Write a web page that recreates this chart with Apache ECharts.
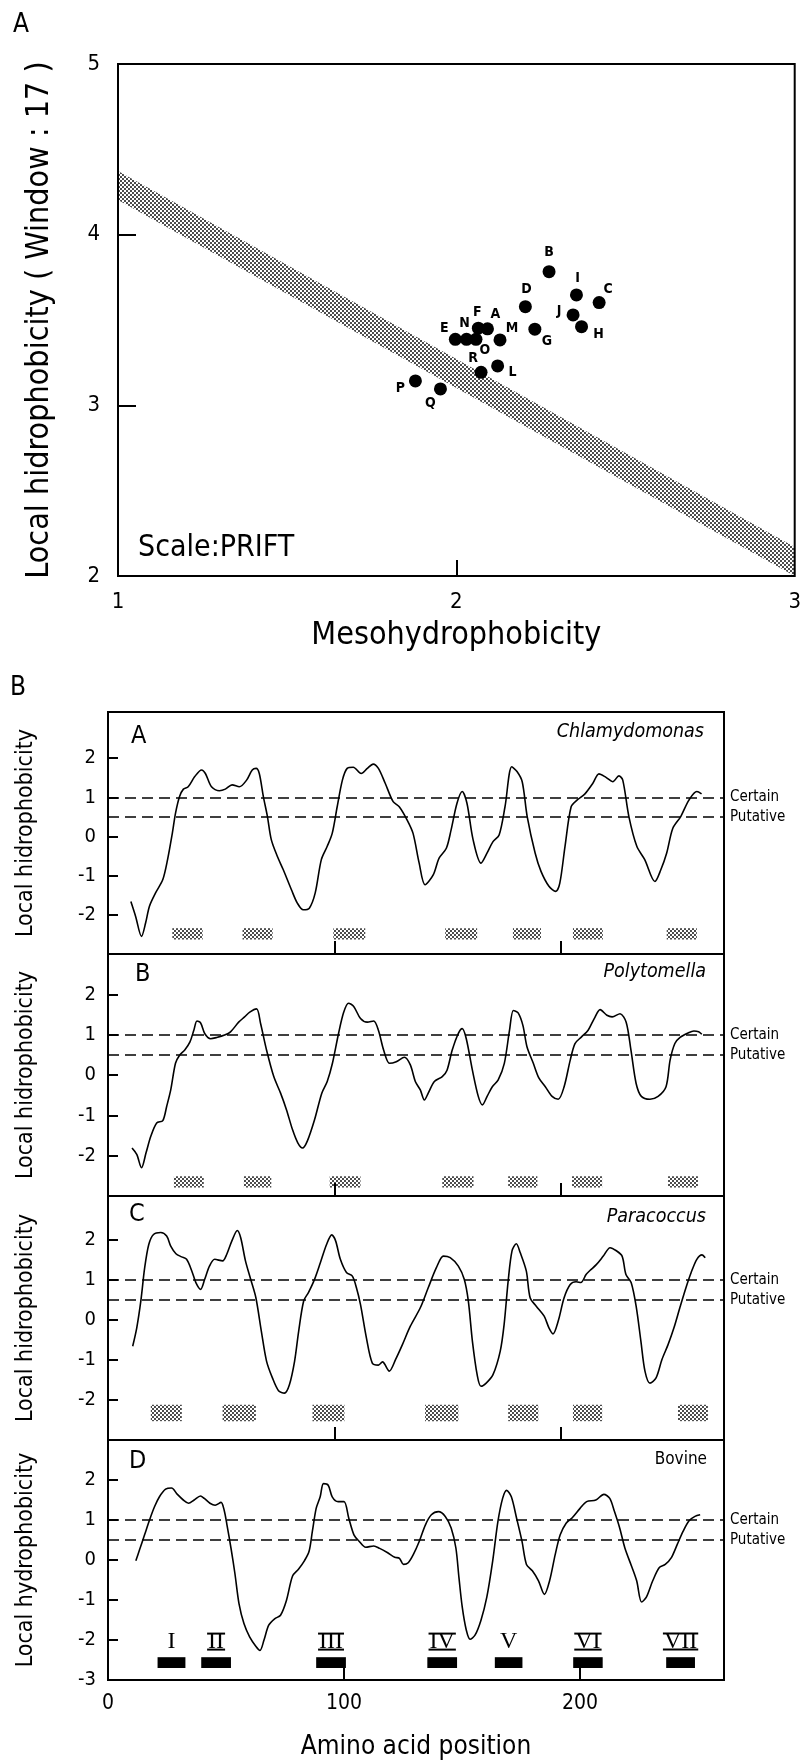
<!DOCTYPE html>
<html>
<head>
<meta charset="utf-8">
<script src="https://cdn.jsdelivr.net/npm/echarts@6/dist/echarts.min.js"></script>
<style>
  html, body { margin: 0; padding: 0; background: #fff; }
  #chart { width: 804px; height: 1761px; }
</style>
</head>
<body>
<div id="chart"></div>
<script>
// ---- panel A: mesohydrophobicity vs local hydrophobicity ----
const strainLetters = ['A','B','C','D','E','F','G','H','I','J','L','M','N','O','P','Q','R'];
const mesoValues  = [2.092,2.274,2.422,2.204,1.997,2.065,2.232,2.370,2.355,2.345,2.122,2.129,2.030,2.058,1.879,1.953,2.073];
const localValues = [3.448,3.783,3.602,3.578,3.387,3.452,3.446,3.461,3.647,3.530,3.231,3.383,3.387,3.387,3.143,3.096,3.194];
const bandX     = [1, 3];
const bandUpper = [4.373, 2.17];
const bandLower = [4.203, 2.0];

// ---- panel B: hydrophobicity profiles ----
const chlamyPos = [10.1,12.2,14.8,16.6,18.3,21.0,24.2,26.3,28.4,29.8,31.6,33.3,35.4,38.3,41.3,43.0,45.7,49.2,51.8,54.8,58.0,61.2,63.7,65.4,66.8,68.6,70.4,72.1,74.8,77.4,81.0,83.6,86.2,88.9,91.5,94.2,96.8,99.0,101.2,103.5,105.6,108.3,111.8,114.5,117.1,119.4,122.4,125.9,128.6,132.1,134.7,137.4,140.0,143.6,146.2,149.4,151.5,154.1,156.4,158.5,161.2,164.7,167.4,170.0,172.7,175.3,178.3,180.6,182.9,185.1,188.6,191.2,194.7,197.7,199.5,201.8,204.5,207.1,210.6,214.1,216.8,219.9,222.9,225.6,227.3,230.0,233.5,237.0,241.5,244.1,246.7,249.4,252.9,256.5,260.0,262.1];
const chlamyHyd = [-1.66,-2.04,-2.55,-2.21,-1.78,-1.44,-1.10,-0.59,0.08,0.59,1.02,1.21,1.27,1.53,1.70,1.61,1.27,1.17,1.21,1.32,1.27,1.44,1.70,1.74,1.61,1.02,0.51,-0.08,-0.51,-0.85,-1.36,-1.70,-1.87,-1.83,-1.44,-0.59,-0.25,0.08,0.76,1.44,1.74,1.77,1.61,1.74,1.85,1.74,1.36,0.89,0.76,0.42,0.08,-0.68,-1.23,-0.98,-0.55,-0.30,0.17,0.85,1.15,0.85,-0.08,-0.68,-0.42,-0.13,0.04,0.76,1.78,1.66,1.40,0.51,-0.42,-0.89,-1.27,-1.40,-1.19,-0.25,0.76,0.93,1.09,1.36,1.60,1.51,1.40,1.55,1.44,0.51,-0.25,-0.59,-1.15,-0.85,-0.42,0.21,0.51,0.93,1.15,1.09];

const polyPos = [10.6,12.7,14.8,16.8,18.9,21.5,24.2,25.9,27.7,29.8,31.6,33.9,36.2,37.9,39.3,40.9,42.7,45.3,48.0,51.5,54.1,57.7,60.3,62.6,65.6,67.4,70.0,73.2,76.2,78.8,81.5,83.8,85.9,88.0,91.2,94.4,96.8,99.1,101.8,104.1,106.2,108.5,111.5,114.5,117.3,119.4,121.7,124.3,127.3,130.9,133.5,135.7,137.9,139.7,141.4,144.1,147.6,149.7,152.0,154.7,156.4,158.2,160.9,163.5,165.3,167.4,169.7,172.3,175.0,177.3,179.0,181.1,183.2,185.0,187.8,190.3,193.1,196.1,198.8,201.4,204.1,206.2,209.0,212.0,214.7,217.3,220.3,222.6,226.1,228.8,230.9,233.2,235.5,239.3,242.9,246.4,248.2,250.3,252.6,256.1,258.7,260.8,262.2];
const polyHyd = [-1.81,-1.97,-2.30,-1.93,-1.52,-1.19,-1.13,-0.78,-0.37,0.29,0.49,0.62,0.82,1.11,1.34,1.29,1.03,0.90,0.93,0.99,1.07,1.31,1.44,1.56,1.64,1.27,0.62,-0.04,-0.45,-0.86,-1.36,-1.68,-1.81,-1.64,-1.11,-0.45,-0.16,0.29,1.03,1.56,1.78,1.70,1.40,1.31,1.34,1.11,0.62,0.29,0.33,0.44,0.25,-0.16,-0.37,-0.62,-0.45,-0.16,-0.04,0.12,0.62,1.03,1.15,0.90,0.12,-0.53,-0.74,-0.53,-0.29,-0.12,0.29,1.11,1.60,1.54,1.23,0.70,0.29,-0.08,-0.29,-0.53,-0.60,-0.29,0.37,0.78,0.94,1.11,1.40,1.62,1.48,1.44,1.52,1.31,0.62,-0.21,-0.53,-0.60,-0.53,-0.29,0.37,0.78,0.93,1.04,1.09,1.07,1.01];

const paraPos = [10.9,12.7,14.5,16.2,18.0,20.1,23.3,25.9,27.7,30.0,32.5,34.7,37.0,38.8,40.9,42.7,44.8,47.1,50.6,52.4,54.7,57.1,58.6,60.7,63.0,65.3,67.7,70.0,72.6,75.3,77.9,80.1,82.4,84.2,86.4,88.5,91.2,93.8,96.5,98.8,100.5,102.6,105.3,107.9,109.7,111.5,114.1,116.7,119.4,121.2,124.2,127.0,130.0,133.5,137.9,141.4,145.0,148.1,151.1,154.7,157.3,159.1,160.9,163.0,164.7,167.0,170.0,173.2,174.9,176.7,178.4,180.3,182.0,184.7,186.4,189.1,192.6,194.7,196.5,198.8,201.4,204.1,206.7,208.8,211.1,212.8,215.5,218.7,221.7,224.3,227.0,228.7,231.0,233.2,235.3,237.1,239.3,242.0,244.6,247.3,249.9,252.5,255.2,257.5,260.0,262.3,263.7];
const paraHyd = [-0.66,-0.20,0.47,1.30,1.88,2.13,2.18,2.09,1.84,1.65,1.57,1.51,1.22,0.93,0.76,1.01,1.34,1.51,1.47,1.63,1.97,2.23,2.05,1.47,1.01,0.55,-0.28,-1.03,-1.45,-1.77,-1.83,-1.62,-1.03,-0.28,0.47,0.68,1.01,1.43,1.88,2.12,1.97,1.51,1.18,1.09,0.80,0.38,-0.45,-1.08,-1.13,-1.05,-1.28,-0.99,-0.62,-0.16,0.30,0.80,1.30,1.59,1.55,1.34,1.01,0.47,-0.53,-1.37,-1.66,-1.58,-1.37,-0.78,-0.12,0.97,1.72,1.90,1.68,1.22,0.55,0.34,0.09,-0.20,-0.35,-0.03,0.55,0.88,0.95,0.93,1.13,1.23,1.37,1.59,1.80,1.73,1.59,1.13,0.93,0.34,-0.53,-1.28,-1.58,-1.45,-0.99,-0.62,-0.20,0.30,0.80,1.18,1.51,1.62,1.55];

const bovPos = [11.8,13.4,15.5,17.6,19.7,21.8,24.4,26.9,29.4,31.9,34.1,36.5,39.2,40.8,43.2,45.4,47.9,49.2,50.4,52.1,53.8,55.5,57.6,60.0,62.7,64.4,66.1,68.1,70.6,73.1,75.6,78.2,80.7,83.2,85.2,86.6,88.2,89.9,91.3,93.3,95.0,97.5,100.0,102.0,104.2,106.4,109.2,112.6,115.1,118.5,121.5,123.5,125.2,127.2,129.4,131.9,134.5,137.0,140.0,142.9,145.4,147.4,148.7,150.1,151.8,153.4,155.5,158.0,160.5,163.0,165.2,167.2,168.9,170.9,173.1,175.4,177.3,179.8,182.4,184.9,187.1,189.5,191.6,194.1,196.6,200.0,202.8,206.7,210.1,212.6,214.6,216.8,219.0,221.8,224.0,226.1,228.1,230.8,233.6,236.1,238.7,241.2,243.7,246.2,248.7,250.9];
const bovHyd = [-0.02,0.26,0.63,1.00,1.33,1.58,1.77,1.80,1.64,1.50,1.42,1.50,1.60,1.54,1.42,1.37,1.44,1.25,0.88,0.30,-0.35,-1.09,-1.59,-1.92,-2.16,-2.26,-2.00,-1.63,-1.47,-1.38,-1.01,-0.40,-0.23,-0.02,0.22,0.72,1.29,1.58,1.91,1.87,1.58,1.46,1.46,1.05,0.63,0.47,0.32,0.35,0.29,0.18,0.07,0.04,-0.11,-0.07,0.14,0.47,0.88,1.13,1.21,1.09,0.80,0.30,-0.44,-1.18,-1.75,-1.98,-1.88,-1.51,-0.93,-0.02,0.96,1.54,1.74,1.58,1.05,0.47,-0.11,-0.27,-0.52,-0.86,-0.52,0.14,0.63,0.92,1.05,1.29,1.46,1.50,1.64,1.54,1.21,0.80,0.30,-0.15,-0.52,-1.05,-0.93,-0.52,-0.19,-0.11,0.06,0.39,0.72,0.98,1.09,1.13];

// predicted transmembrane segments (start / end residue)
const chlamyBoxStart = [28.4,59.4,99.5,148.9,178.8,205.3,246.7];
const chlamyBoxEnd   = [41.8,72.7,113.6,163.0,191.2,218.5,260.0];
const polyBoxStart   = [29.1,60.0,97.9,147.6,176.7,204.9,247.3];
const polyBoxEnd     = [42.3,72.1,111.5,161.4,189.6,218.2,260.5];
const paraBoxStart   = [18.9,50.6,90.3,140.0,176.7,205.3,251.7];
const paraBoxEnd     = [32.6,65.3,104.4,154.7,190.0,218.2,264.9];
const bovBoxStart    = [21.0,39.5,88.2,135.3,163.9,197.1,236.5];
const bovBoxEnd      = [32.8,52.1,100.8,147.9,175.6,209.6,248.7];
const romanLabels    = ['I','II','III','IV','V','VI','VII'];

const cutoffValues = [1, 0.5];
const cutoffNames  = ['Certain', 'Putative'];
const yTicksB  = [-2, -1, 0, 1, 2];
const yTicksD  = [-3, -2, -1, 0, 1, 2];
const xTicksB  = [100, 200];
const xLabelsB = [0, 100, 200];

// ---- styles ----
const FONT = "'Liberation Sans Narrow','DejaVu Sans Condensed','Liberation Sans',sans-serif";
const SERIF = "'Liberation Serif','DejaVu Serif',serif";
const labelShift = {
  A:[8,-15], B:[0,-19], C:[9,-13], D:[1,-17], E:[-11,-11], F:[-1,-16], G:[12,12], H:[17,8],
  I:[1,-17], J:[-14,-4], L:[15,6], M:[12,-12], N:[-2,-16], O:[9,11], P:[-15,7], Q:[-10,14], R:[-8,-14]
};

// dotted screen fill
const tile = document.createElement('canvas');
tile.width = 4; tile.height = 4;
const tc = tile.getContext('2d');
tc.fillStyle = '#000';
tc.beginPath(); tc.arc(1, 1, 0.95, 0, Math.PI * 2); tc.fill();
tc.beginPath(); tc.arc(3, 3, 0.95, 0, Math.PI * 2); tc.fill();
const stipple = { image: tile, repeat: 'repeat' };

const chart = echarts.init(document.getElementById('chart'), null, { renderer: 'canvas' });

const subTops    = [712, 954, 1196, 1440];
const subHeights = [242, 242, 244, 242];
const subYMax    = [3.18, 3, 3.09, 3];
const subXMax    = [272, 272, 272, 261];
const profiles = [
  { pos: chlamyPos, hyd: chlamyHyd, bs: chlamyBoxStart, be: chlamyBoxEnd, by: [-2.63, -2.34] },
  { pos: polyPos,   hyd: polyHyd,   bs: polyBoxStart,   be: polyBoxEnd,   by: [-2.79, -2.51] },
  { pos: paraPos,   hyd: paraHyd,   bs: paraBoxStart,   be: paraBoxEnd,   by: [-2.53, -2.12] },
  { pos: bovPos,    hyd: bovHyd,    bs: bovBoxStart,    be: bovBoxEnd,    by: [-2.70, -2.43] }
];
const romanY = -2.04;

const grids = [{ left: 118, top: 64, width: 679, height: 512, show: true, borderColor: '#000', borderWidth: 2 }];
const xAxes = [{
  gridIndex: 0, type: 'value', min: 1, max: 3, interval: 1,
  name: 'Mesohydrophobicity', nameLocation: 'middle', nameGap: 44,
  nameTextStyle: { fontSize: 32, fontFamily: FONT, color: '#000' },
  axisLine: { show: false, onZero: false }, splitLine: { show: false },
  axisTick: { inside: true, length: 16, customValues: [2], lineStyle: { color: '#000', width: 2 } },
  axisLabel: { fontSize: 22, fontFamily: FONT, color: '#000', margin: 15 }
}];
const yAxes = [{
  gridIndex: 0, type: 'value', min: 2, max: 5, interval: 1,
  name: 'Local hidrophobicity ( Window : 17 )', nameLocation: 'middle', nameGap: 62,
  nameTextStyle: { fontSize: 32, fontFamily: FONT, color: '#000' },
  axisLine: { show: false, onZero: false }, splitLine: { show: false },
  axisTick: { inside: true, length: 18, customValues: [3, 4], lineStyle: { color: '#000', width: 2 } },
  axisLabel: { fontSize: 22, fontFamily: FONT, color: '#000', margin: 18 }
}];

const series = [
  {
    type: 'custom', xAxisIndex: 0, yAxisIndex: 0, silent: true, clip: true, z: 1,
    data: [[bandX[0], bandUpper[0]]],
    renderItem(params, api) {
      const pts = bandX.map((x, i) => api.coord([x, bandUpper[i]]));
      for (let i = bandX.length - 1; i >= 0; i--) pts.push(api.coord([bandX[i], bandLower[i]]));
      return { type: 'polygon', shape: { points: pts }, style: { fill: stipple } };
    }
  },
  {
    type: 'scatter', xAxisIndex: 0, yAxisIndex: 0, symbolSize: 13, z: 3,
    itemStyle: { color: '#000', opacity: 1 },
    data: strainLetters.map((l, i) => ({
      value: [mesoValues[i], localValues[i]], name: l,
      label: { offset: labelShift[l] }
    })),
    label: {
      show: true, position: 'inside', formatter: '{b}', color: '#000',
      fontSize: 14, fontWeight: 'bold', fontFamily: FONT
    }
  }
];

profiles.forEach((p, k) => {
  const gi = k + 1;
  const isLast = k === 3;
  grids.push({ left: 108, top: subTops[k], width: 616, height: subHeights[k], show: true, borderColor: '#000', borderWidth: 2 });
  xAxes.push({
    gridIndex: gi, type: 'value', min: 0, max: subXMax[k],
    name: isLast ? 'Amino acid position' : '', nameLocation: 'middle', nameGap: 54,
    nameTextStyle: { fontSize: 26, fontFamily: FONT, color: '#000' },
    axisLine: { show: false, onZero: false }, splitLine: { show: false },
    axisTick: { inside: true, length: 13, customValues: xTicksB, lineStyle: { color: '#000', width: 2 } },
    axisLabel: { show: isLast, customValues: xLabelsB, fontSize: 21, fontFamily: FONT, color: '#000', margin: 13 }
  });
  yAxes.push({
    gridIndex: gi, type: 'value', min: -3, max: subYMax[k],
    name: isLast ? 'Local hydrophobicity' : 'Local hidrophobicity', nameLocation: 'middle', nameGap: 70,
    nameTextStyle: { fontSize: 23, fontFamily: FONT, color: '#000' },
    axisLine: { show: false, onZero: false }, splitLine: { show: false },
    axisTick: { inside: true, length: 10, customValues: yTicksB, lineStyle: { color: '#000', width: 2 } },
    axisLabel: { customValues: isLast ? yTicksD : yTicksB, fontSize: 20, fontFamily: FONT, color: '#000', margin: 12 }
  });
  series.push({
    type: 'line', xAxisIndex: gi, yAxisIndex: gi, smooth: 0.3, showSymbol: false, z: 3,
    lineStyle: { color: '#000', width: 1.6 },
    data: p.pos.map((x, i) => [x, p.hyd[i]]),
    markLine: {
      silent: true, symbol: 'none',
      lineStyle: { color: '#000', type: [11, 6], width: 1.6 },
      label: { position: 'end', formatter: '{b}', color: '#000', fontSize: 15, fontFamily: FONT, distance: 6 },
      data: cutoffValues.map((v, i) => ({ name: cutoffNames[i], yAxis: v }))
    }
  });
  series.push({
    type: 'custom', xAxisIndex: gi, yAxisIndex: gi, silent: true, z: 2,
    data: p.bs.map((s, i) => [s, p.be[i]]),
    renderItem(params, api) {
      const s = api.value(0), e = api.value(1);
      const a = api.coord([s, p.by[1]]), b = api.coord([e, p.by[0]]);
      const kids = [{
        type: 'rect', shape: { x: a[0], y: a[1], width: b[0] - a[0], height: b[1] - a[1] },
        style: { fill: isLast ? '#000' : stipple }
      }];
      if (isLast) {
        const c = api.coord([(s + e) / 2, romanY]);
        const txt = romanLabels[params.dataIndex];
        const fs = 24;
        tc.font = fs + 'px ' + SERIF;
        const w = txt.length > 1 ? tc.measureText(txt).width + 2 : 0;
        kids.push({ type: 'text', x: c[0], y: c[1], style: { text: txt, font: fs + 'px ' + SERIF, align: 'center', verticalAlign: 'middle', fill: '#000' } });
        if (w) {
          kids.push({ type: 'line', shape: { x1: c[0] - w / 2, y1: c[1] - 8, x2: c[0] + w / 2, y2: c[1] - 8 }, style: { stroke: '#000', lineWidth: 2 } });
          kids.push({ type: 'line', shape: { x1: c[0] - w / 2, y1: c[1] + 8, x2: c[0] + w / 2, y2: c[1] + 8 }, style: { stroke: '#000', lineWidth: 2 } });
        }
      }
      return { type: 'group', children: kids };
    }
  });
});

const txt = (left, top, text, font) => ({ type: 'text', left, top, style: { text, font, fill: '#000' } });
const graphic = [
  txt(13, 12, 'A', '26px ' + FONT),
  txt(10, 675, 'B', '26px ' + FONT),
  txt(138, 533, 'Scale:PRIFT', '30px ' + FONT),
  txt(131, 724, 'A', '25px ' + FONT),
  txt(135, 962, 'B', '25px ' + FONT),
  txt(129, 1202, 'C', '25px ' + FONT),
  txt(129, 1449, 'D', '25px ' + FONT),
  { type: 'text', x: 704, y: 732, style: { text: 'Chlamydomonas', font: 'italic 19.5px ' + FONT, fill: '#000', align: 'right', verticalAlign: 'middle' } },
  { type: 'text', x: 706, y: 972, style: { text: 'Polytomella', font: 'italic 19.5px ' + FONT, fill: '#000', align: 'right', verticalAlign: 'middle' } },
  { type: 'text', x: 706, y: 1217, style: { text: 'Paracoccus', font: 'italic 19.5px ' + FONT, fill: '#000', align: 'right', verticalAlign: 'middle' } },
  { type: 'text', x: 707, y: 1460, style: { text: 'Bovine', font: '17px ' + FONT, fill: '#000', align: 'right', verticalAlign: 'middle' } }
];

chart.setOption({
  backgroundColor: '#fff',
  animation: false,
  grid: grids,
  xAxis: xAxes,
  yAxis: yAxes,
  series: series,
  graphic: graphic
});
</script>
</body>
</html>
